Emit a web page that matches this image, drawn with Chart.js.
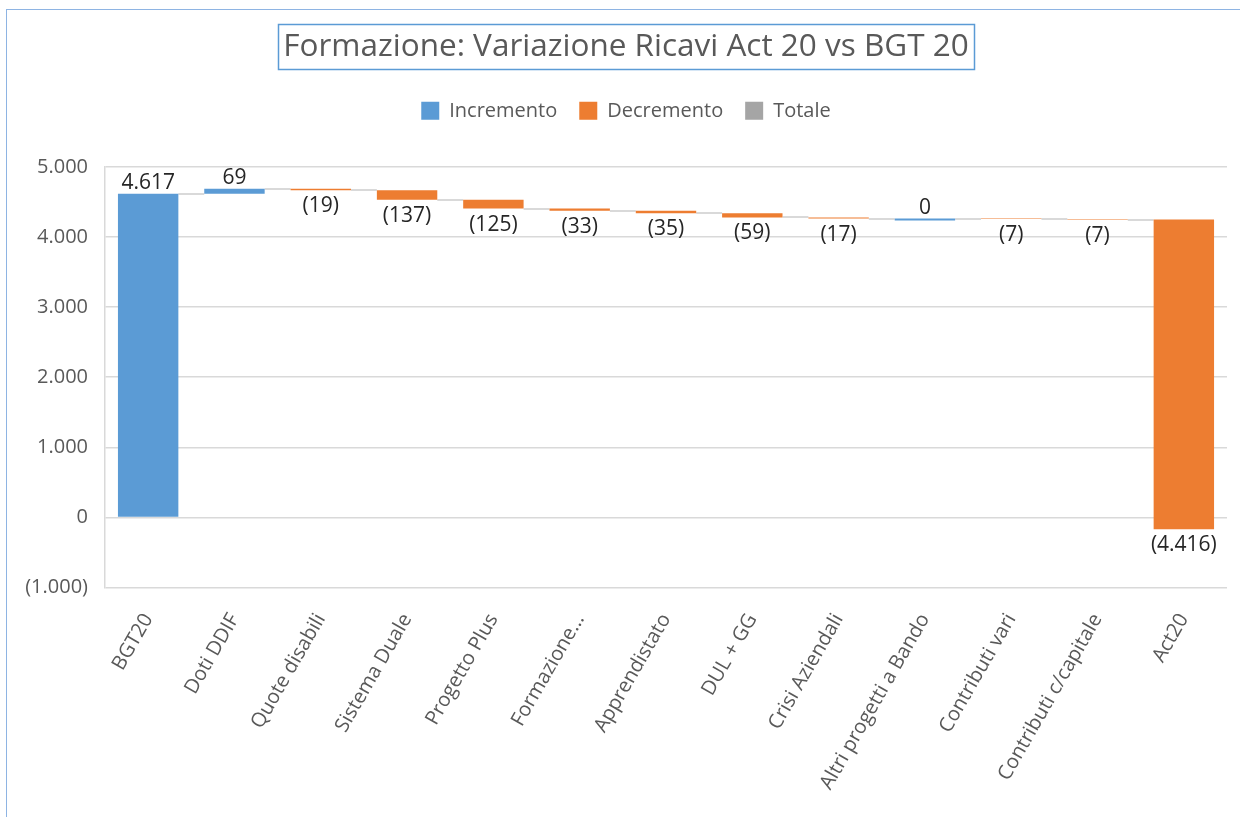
<!DOCTYPE html>
<html>
<head>
<meta charset="utf-8">
<script src="https://cdn.jsdelivr.net/npm/chart.js@4.4.0/dist/chart.umd.min.js"></script>
<style>
html, body { margin: 0; padding: 0; background: #fff; overflow: hidden; }
#wrap { position: absolute; left: 0; top: 0; width: 1240px; height: 817px; }
#frame { position: absolute; left: 6px; top: 9px; width: 1260px; height: 830px;
         border-top: 1px solid #8eb4e3; border-left: 1px solid #8eb4e3; pointer-events: none; }
</style>
</head>
<body>
<div id="wrap"><canvas id="waterfallChart" width="1240" height="817"></canvas></div>
<div id="frame"></div>
<script>
// Waterfall data
const categories = ['BGT20', 'Doti DDIF', 'Quote disabili', 'Sistema Duale', 'Progetto Plus',
    'Formazione...', 'Apprendistato', 'DUL + GG', 'Crisi Aziendali', 'Altri progetti a Bando',
    'Contributi vari', 'Contributi c/capitale', 'Act20'];
const values = [4617, 69, -19, -137, -125, -33, -35, -59, -17, 0, -7, -7, -4416];
const yTicks = [-1000, 0, 1000, 2000, 3000, 4000, 5000];
const seriesNames = ['Incremento', 'Decremento', 'Totale'];

const blue = '#5b9bd5', orange = '#ed7d31', grey = '#a5a5a5', textGrey = '#595959';

// running totals
const starts = [], ends = [];
let run = 0;
values.forEach(v => { starts.push(run); run += v; ends.push(run); });

const upData = values.map((v, i) => v >= 0 ? [starts[i], ends[i]] : null);
const downData = values.map((v, i) => v < 0 ? [starts[i], ends[i]] : null);
const totData = values.map(() => null);

function fmt(v) {
    const s = Math.abs(Math.round(v)).toString().replace(/\B(?=(\d{3})+(?!\d))/g, '.');
    return v < 0 ? '(' + s + ')' : s;
}

Chart.defaults.font.family = '"Open Sans", sans-serif';
Chart.defaults.color = textGrey;

// extra room under the legend
const legendGap = {
    id: 'legendGap',
    beforeInit(chart) {
        const fit = chart.legend.fit;
        chart.legend.fit = function () {
            fit.bind(chart.legend)();
            this.height += 36;
        };
    }
};

// connector lines between bars
const connectors = {
    id: 'connectors',
    beforeDatasetsDraw(chart) {
        const ctx = chart.ctx, y = chart.scales.y;
        ctx.save();
        ctx.strokeStyle = '#d9d9d9';
        ctx.lineWidth = 2;
        for (let i = 0; i < values.length - 1; i++) {
            const a = chart.getDatasetMeta(values[i] >= 0 ? 0 : 1).data[i];
            const b = chart.getDatasetMeta(values[i + 1] >= 0 ? 0 : 1).data[i + 1];
            const py = Math.round(y.getPixelForValue(ends[i]));
            ctx.beginPath();
            ctx.moveTo(a.x + a.width / 2, py);
            ctx.lineTo(b.x - b.width / 2, py);
            ctx.stroke();
        }
        ctx.restore();
    }
};

// value labels
const valueLabels = {
    id: 'valueLabels',
    afterDatasetsDraw(chart) {
        const ctx = chart.ctx;
        ctx.save();
        ctx.font = '21px "Open Sans", sans-serif';
        ctx.fillStyle = '#262626';
        ctx.textAlign = 'center';
        ctx.textBaseline = 'alphabetic';
        values.forEach((v, i) => {
            const bar = chart.getDatasetMeta(v >= 0 ? 0 : 1).data[i];
            const top = Math.min(bar.y, bar.base), bot = Math.max(bar.y, bar.base);
            if (v >= 0) ctx.fillText(fmt(v), bar.x, top - 5);
            else ctx.fillText(fmt(v), bar.x, bot + 22);
        });
        ctx.restore();
    }
};

// box round the title
const titleBox = {
    id: 'titleBox',
    afterDraw(chart) {
        const t = chart.titleBlock, o = chart.options.plugins.title;
        const ctx = chart.ctx;
        ctx.save();
        ctx.font = o.font.size + 'px ' + Chart.defaults.font.family;
        const w = ctx.measureText(o.text).width;
        const cx = (t.left + t.right) / 2;
        const cy = t.top + o.padding.top + o.font.size * 1.2 / 2;
        ctx.strokeStyle = '#5b9bd5';
        ctx.lineWidth = 1.5;
        ctx.strokeRect(Math.round(cx - w / 2 - 5) + 0.5, Math.round(cy - 23) + 0.5, Math.round(w + 10), 45);
        ctx.restore();
    }
};

new Chart(document.getElementById('waterfallChart').getContext('2d'), {
    type: 'bar',
    data: {
        labels: categories,
        datasets: [{
            label: seriesNames[0],
            data: upData,
            backgroundColor: blue,
            minBarLength: 2,
            grouped: false
        }, {
            label: seriesNames[1],
            data: downData,
            backgroundColor: orange,
            grouped: false
        }, {
            label: seriesNames[2],
            data: totData,
            backgroundColor: grey,
            grouped: false
        }]
    },
    options: {
        responsive: false,
        animation: false,
        barPercentage: 0.7,
        categoryPercentage: 1.0,
        layout: { padding: { left: 25, right: 13, top: 0, bottom: 9 } },
        plugins: {
            title: {
                display: true,
                text: 'Formazione: Variazione Ricavi Act 20 vs BGT 20',
                color: textGrey,
                font: { size: 31.5, weight: 'normal' },
                padding: { top: 28, bottom: 13 }
            },
            legend: {
                labels: {
                    boxWidth: 18,
                    boxHeight: 18,
                    padding: 22,
                    color: textGrey,
                    font: { size: 20 }
                }
            },
            tooltip: { enabled: false }
        },
        scales: {
            x: {
                grid: { display: false },
                border: { display: false },
                ticks: {
                    autoSkip: false,
                    minRotation: 60,
                    maxRotation: 60,
                    padding: 14,
                    color: textGrey,
                    font: { size: 20 }
                }
            },
            y: {
                min: yTicks[0],
                max: yTicks[yTicks.length - 1],
                afterBuildTicks(scale) { scale.ticks = yTicks.map(v => ({ value: v })); },
                afterFit(scale) { scale.width = 80; },
                grid: { color: '#d9d9d9', lineWidth: 1.5, drawTicks: false },
                border: { display: true, color: '#d9d9d9', width: 1.5 },
                ticks: {
                    padding: 17,
                    color: textGrey,
                    font: { size: 20 },
                    callback: v => fmt(v)
                }
            }
        }
    },
    plugins: [legendGap, connectors, valueLabels, titleBox]
});
</script>
</body>
</html>
